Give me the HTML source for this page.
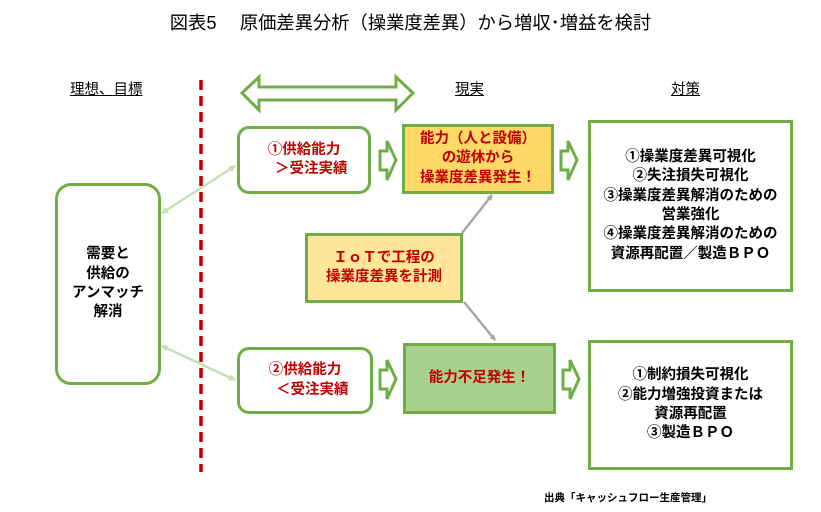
<!DOCTYPE html>
<html><head><meta charset="utf-8"><style>
body{margin:0;width:821px;height:512px;background:#fff;position:relative;overflow:hidden;font-family:"Liberation Sans","Noto Sans CJK JP",sans-serif;}
.a{position:absolute;box-sizing:border-box;display:flex;align-items:center;justify-content:center;text-align:center;}
.r{color:#C00000;font-weight:bold;font-size:14.5px;line-height:19.5px;}
.k{color:#000;font-weight:bold;font-size:14.5px;line-height:19.3px;}
</style></head><body>
<svg width="821" height="512" style="position:absolute;left:0;top:0">
<defs>
<marker id="g" markerWidth="6" markerHeight="6" refX="5" refY="3" orient="auto" markerUnits="userSpaceOnUse" viewBox="0 0 6 6"><path d="M0,0 L6,3 L0,6 z" fill="#A6A6A6"/></marker>
<marker id="lg" markerWidth="7" markerHeight="7" refX="6" refY="3.5" orient="auto-start-reverse" markerUnits="userSpaceOnUse" viewBox="0 0 7 7"><path d="M0,0 L7,3.5 L0,7 z" fill="#C5E0B4"/></marker>
</defs>
<line x1="201" y1="80" x2="201" y2="472" stroke="#C00000" stroke-width="3.5" stroke-dasharray="10,6"/>
<path d="M242,93 L259,77 L259,87 L396,87 L396,77 L413,93 L396,110 L396,100 L259,100 L259,110 Z" fill="#fff" stroke="#70AD47" stroke-width="3"/>
<line x1="162" y1="213" x2="235" y2="166" stroke="#C5E0B4" stroke-width="2.5" marker-start="url(#lg)" marker-end="url(#lg)"/>
<line x1="162" y1="346" x2="235" y2="380" stroke="#C5E0B4" stroke-width="2.5" marker-start="url(#lg)" marker-end="url(#lg)"/>
<line x1="462" y1="233" x2="492" y2="195" stroke="#A6A6A6" stroke-width="2.5" marker-end="url(#g)"/>
<line x1="464" y1="302" x2="495" y2="340" stroke="#A6A6A6" stroke-width="2.5" marker-end="url(#g)"/>
<g fill="#fff" stroke="#70AD47" stroke-width="3">
<path d="M380,151 L387,151 L387,141 L396,160 L387,180 L387,170 L380,170 Z"/>
<path d="M561,151 L568,151 L568,141 L577,160 L568,180 L568,170 L561,170 Z"/>
<path d="M380,370 L387,370 L387,360 L396,379 L387,399 L387,389 L380,389 Z"/>
<path d="M563,370 L570,370 L570,360 L579,379 L570,399 L570,389 L563,389 Z"/>
</g>
</svg>
<div class="a" style="left:0;top:8px;width:821px;height:28px;font-size:18.3px;color:#000;">図表5　 原価差異分析（操業度差異）から増収･増益を検討</div>
<div style="position:absolute;left:70px;top:78px;font-size:14.5px;text-decoration:underline;">理想、目標</div>
<div style="position:absolute;left:455px;top:78px;font-size:14.5px;text-decoration:underline;">現実</div>
<div style="position:absolute;left:671px;top:78px;font-size:14.5px;text-decoration:underline;">対策</div>
<div class="a k" style="left:55px;top:183px;width:106px;height:202px;border:3px solid #70AD47;border-radius:16px;">需要と<br>供給の<br>アンマッチ<br>解消</div>
<div class="a r" style="left:237px;top:126px;width:134px;height:68px;border:3px solid #70AD47;border-radius:12px;">①供給能力<br>　＞受注実績</div>
<div class="a r" style="left:237px;top:347px;width:136px;height:67px;border:3px solid #70AD47;border-radius:12px;">②供給能力<br>　＜受注実績</div>
<div class="a r" style="left:402px;top:124px;width:152px;height:70px;border:3px solid #70AD47;background:#FFD966;">能力（人と設備）<br>の遊休から<br>操業度差異発生！</div>
<div class="a r" style="left:305px;top:233px;width:158px;height:70px;border:3px solid #70AD47;background:#FFE699;">ＩｏＴで工程の<br>操業度差異を計測</div>
<div class="a r" style="left:403px;top:343px;width:153px;height:71px;border:3px solid #70AD47;background:#A9D18E;">能力不足発生！</div>
<div class="a k" style="left:588px;top:120px;width:205px;height:172px;border:3px solid #70AD47;">①操業度差異可視化<br>②失注損失可視化<br>③操業度差異解消のための<br>営業強化<br>④操業度差異解消のための<br>資源再配置／製造ＢＰＯ</div>
<div class="a k" style="left:588px;top:340px;width:205px;height:130px;border:3px solid #70AD47;">①制約損失可視化<br>②能力増強投資または<br>資源再配置<br>③製造ＢＰＯ</div>
<div style="position:absolute;left:544px;top:490px;font-size:10.5px;font-weight:bold;">出典「キャッシュフロー生産管理」</div>
</body></html>
